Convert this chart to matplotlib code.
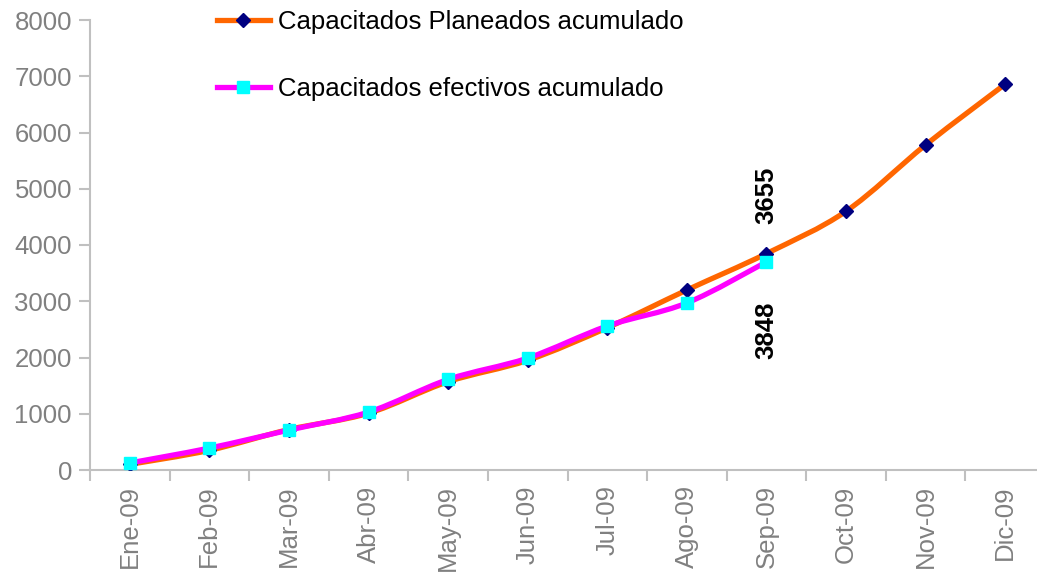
import matplotlib
matplotlib.use("Agg")
import matplotlib.pyplot as plt
from matplotlib.path import Path
from matplotlib.patches import PathPatch
from matplotlib.lines import Line2D
import numpy as np

months = ["Ene-09", "Feb-09", "Mar-09", "Abr-09", "May-09", "Jun-09",
          "Jul-09", "Ago-09", "Sep-09", "Oct-09", "Nov-09", "Dic-09"]
planeados = [100, 350, 720, 1010, 1570, 1950, 2530, 3200, 3848, 4600, 5780, 6860]
efectivos = [125, 390, 710, 1030, 1610, 1990, 2560, 2970, 3700]
label_planeados = "Capacitados Planeados acumulado"
label_efectivos = "Capacitados efectivos acumulado"
annot_top = "3655"
annot_bottom = "3848"

plt.rcParams['font.family'] = ['Liberation Sans', 'DejaVu Sans']

fig = plt.figure(figsize=(10.37, 5.75), dpi=100)
ax = fig.add_axes([90/1037, 105/575, 955/1037, 450/575])


def smooth_path(xs, ys):
    pts = np.column_stack([xs, ys]).astype(float)
    n = len(pts)
    verts = [pts[0]]
    codes = [Path.MOVETO]
    for i in range(n - 1):
        p0 = pts[i - 1] if i > 0 else pts[i]
        p1 = pts[i]
        p2 = pts[i + 1]
        p3 = pts[i + 2] if i + 2 < n else pts[i + 1]
        c1 = p1 + (p2 - p0) / 6.0
        c2 = p2 - (p3 - p1) / 6.0
        verts += [c1, c2, p2]
        codes += [Path.CURVE4] * 3
    return Path(verts, codes)


xp = np.arange(len(planeados))
xe = np.arange(len(efectivos))

ax.add_patch(PathPatch(smooth_path(xp, planeados), fill=False,
                       edgecolor="#FF6600", lw=3.8, capstyle='round', joinstyle='round', zorder=2))
ax.plot(xp, planeados, linestyle='none', marker='D', markersize=7,
        color="#000080", zorder=3)
ax.add_patch(PathPatch(smooth_path(xe, efectivos), fill=False,
                       edgecolor="#FF00FF", lw=3.8, capstyle='round', joinstyle='round', zorder=4))
ax.plot(xe, efectivos, linestyle='none', marker='s', markersize=8,
        color="#00FFFF", zorder=5)

ax.set_xlim(-0.5, len(months) - 0.5)
ax.set_ylim(0, 8000)
ax.set_yticks(np.arange(0, 8001, 1000))
ax.set_xticks(xp)
ax.set_xticklabels(months, rotation=90, fontsize=18.5, color="#808080")
ax.set_xticks(np.arange(-0.5, len(months), 1), minor=True)
ax.tick_params(axis='x', which='major', length=0, pad=11)
ax.tick_params(axis='x', which='minor', length=8, width=1.5, color="#C0C0C0")
ax.tick_params(axis='y', length=8, width=1.5, color="#C0C0C0", labelsize=18.5,
               labelcolor="#808080", pad=5)

for s in ['top', 'right']:
    ax.spines[s].set_visible(False)
for s in ['left', 'bottom']:
    ax.spines[s].set_color("#C0C0C0")
    ax.spines[s].set_linewidth(1.5)

ax.text(8, 4890, annot_top, rotation=90, fontsize=18.5, fontweight='bold',
        ha='center', va='center')
ax.text(8, 2490, annot_bottom, rotation=90, fontsize=18.5, fontweight='bold',
        ha='center', va='center')

handles = [
    Line2D([], [], color="#FF6600", lw=3.8, marker='D', markersize=7,
           markerfacecolor="#000080", markeredgecolor="#000080"),
    Line2D([], [], color="#FF00FF", lw=3.8, marker='s', markersize=8,
           markerfacecolor="#00FFFF", markeredgecolor="#00FFFF"),
]
fig.legend(handles, [label_planeados, label_efectivos], loc='upper left',
           bbox_to_anchor=(217/1037, 1 - 10/575), frameon=False, fontsize=18.5,
           handlelength=2.06, labelspacing=1.68, handletextpad=0.3,
           borderaxespad=0, borderpad=0)

fig.savefig("out.png", dpi=100)
